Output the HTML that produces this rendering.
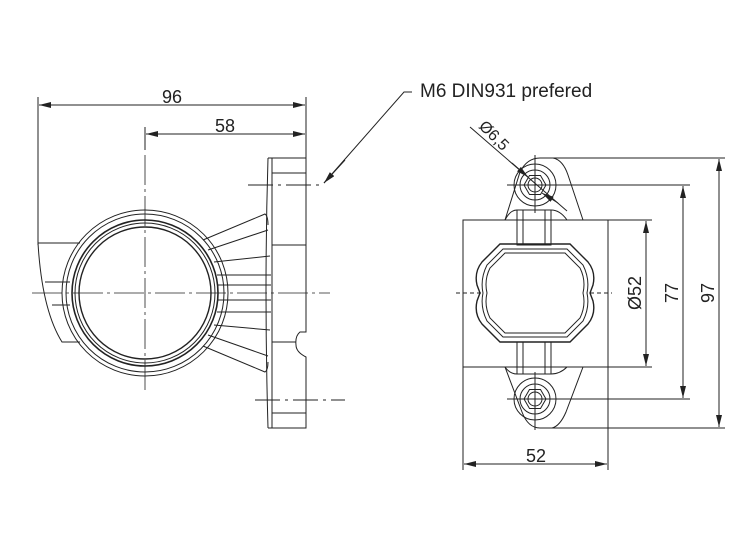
<!DOCTYPE html>
<html><head><meta charset="utf-8"><style>
html,body{margin:0;padding:0;background:#fff;}
svg{display:block;}
text{font-family:"Liberation Sans",sans-serif;fill:#222;}
</style></head><body>
<svg width="750" height="550" viewBox="0 0 750 550" xmlns="http://www.w3.org/2000/svg">
<defs>
<marker id="a" viewBox="0 0 12 6" refX="12" refY="3" markerWidth="12" markerHeight="6" orient="auto-start-reverse" markerUnits="userSpaceOnUse"><path d="M0,0 L12,3 L0,6 z" fill="#222"/></marker>
</defs>
<g stroke="#222" fill="none" stroke-width="1">
<line x1="38" y1="97" x2="38" y2="245"/>
<line x1="306" y1="97" x2="306" y2="158"/>
<line x1="39" y1="105" x2="305" y2="105" marker-start="url(#a)" marker-end="url(#a)"/>
<line x1="146" y1="134" x2="305" y2="134" marker-start="url(#a)" marker-end="url(#a)"/>
<line x1="145" y1="127" x2="145" y2="150"/>
<line x1="145" y1="155" x2="145" y2="390" stroke-dasharray="30,4,3,4" stroke-width="0.8"/>
<line x1="32" y1="293" x2="330" y2="293" stroke-dasharray="30,4,3,4" stroke-width="0.8"/>
<polyline points="412,92 404,92 324,183"/>
<line x1="345" y1="160" x2="324" y2="183" marker-end="url(#a)"/>
<line x1="248" y1="185" x2="320" y2="185" stroke-dasharray="25,5,3,5"/>
<line x1="255" y1="400" x2="345" y2="400" stroke-dasharray="25,5,3,5"/>
<path d="M268,158 Q264,290 268,428"/>
<line x1="272" y1="158" x2="272" y2="428"/>
<path d="M268,158 L306,158 L306,332 L300,332 Q295,336 296,345 Q296,352 306,357 L306,428 L268,428"/>
<line x1="272" y1="173" x2="306" y2="173"/>
<line x1="272" y1="245" x2="306" y2="245"/>
<line x1="272" y1="342" x2="296" y2="342"/>
<line x1="272" y1="413" x2="306" y2="413"/>
<path d="M203,240 L265,214 Q268,216 268,225"/>
<path d="M208,250 L268,230"/>
<path d="M214,262 L270,256"/>
<path d="M217,275 L271,275"/>
<path d="M218,285 L271,285"/>
<path d="M218,300 L271,300"/>
<path d="M217,312 L271,312"/>
<path d="M214,325 L270,330"/>
<path d="M208,335 L268,356"/>
<path d="M203,346 L265,372 Q268,370 268,362"/>
<circle cx="145" cy="293" r="83"/>
<circle cx="145" cy="293" r="79"/>
<circle cx="145" cy="293" r="73" stroke-width="1.6"/>
<circle cx="145" cy="293" r="70"/>
<circle cx="145" cy="293" r="66" stroke-width="1.4"/>
<path d="M38,243 L80,243"/>
<path d="M38,243 Q42,310 62,342 L80,342"/>
<line x1="45" y1="282" x2="70" y2="282"/>
<line x1="52" y1="305" x2="70" y2="305"/>

<rect x="463" y="220" width="145" height="147"/>
<path d="M505,220 L520,172 Q527,158 540,158 L553,158 Q563,160 568,175 L583,220"/>
<path d="M505,367 L522,412 Q528,428 540,428 L552,428 Q560,426 566,412 L583,367"/>
<circle cx="535" cy="185" r="21"/>
<circle cx="535" cy="185" r="15"/>
<polygon points="546,185 540.5,194.5 529.5,194.5 524,185 529.5,175.5 540.5,175.5"/>
<circle cx="535" cy="185" r="7"/>
<circle cx="535" cy="399" r="21"/>
<circle cx="535" cy="399" r="15"/>
<polygon points="546,399 540.5,408.5 529.5,408.5 524,399 529.5,389.5 540.5,389.5"/>
<circle cx="535" cy="399" r="7"/>
<line x1="535" y1="155" x2="535" y2="213"/>
<line x1="507" y1="185" x2="690" y2="185"/>
<line x1="535" y1="372" x2="535" y2="430"/>
<line x1="507" y1="399" x2="690" y2="399"/>
<line x1="540" y1="158" x2="725" y2="158"/>
<line x1="540" y1="428" x2="725" y2="428"/>
<line x1="608" y1="220" x2="652" y2="220"/>
<line x1="608" y1="367" x2="652" y2="367"/>
<rect x="517" y="210" width="34" height="35"/>
<rect x="517" y="342" width="34" height="32"/>
<line x1="523" y1="210" x2="523" y2="245"/><line x1="545" y1="210" x2="545" y2="245"/>
<line x1="523" y1="342" x2="523" y2="374"/><line x1="545" y1="342" x2="545" y2="374"/>
<path d="M505,220 Q510,210 517,210 M551,210 Q560,210 567,220"/>
<path d="M505,367 Q510,374 517,374 M551,374 Q560,374 567,367"/>
<path d="M500,244 L570,244 L588,262 Q596,272 593,285 L590,293 L593,301 Q596,314 588,324 L570,342 L500,342 L482,324 Q474,314 477,301 L480,293 L477,285 Q474,272 482,262 Z" stroke-width="1.4"/>
<path d="M503,249 L567,249 L583,265 Q590,279 587,293 Q590,307 583,321 L567,337 L503,337 L487,321 Q480,307 483,293 Q480,279 487,265 Z"/>
<path d="M505,253 L565,253 L580,268 Q586,280 583,293 Q586,306 580,318 L565,333 L505,333 L490,318 Q484,306 487,293 Q484,280 490,268 Z"/>
<line x1="456" y1="293" x2="482" y2="293" stroke-dasharray="4,3"/>
<line x1="590" y1="293" x2="612" y2="293" stroke-dasharray="4,3"/>
<line x1="463" y1="367" x2="463" y2="470"/>
<line x1="608" y1="367" x2="608" y2="470"/>
<line x1="464" y1="464" x2="607" y2="464" marker-start="url(#a)" marker-end="url(#a)"/>
<line x1="646" y1="221" x2="646" y2="366" marker-start="url(#a)" marker-end="url(#a)"/>
<line x1="683" y1="186" x2="683" y2="398" marker-start="url(#a)" marker-end="url(#a)"/>
<line x1="719" y1="159" x2="719" y2="427" marker-start="url(#a)" marker-end="url(#a)"/>
<line x1="470" y1="127" x2="567" y2="211"/>
<line x1="512" y1="163" x2="528" y2="177" marker-end="url(#a)"/>
<line x1="558" y1="203" x2="542" y2="193" marker-end="url(#a)"/>
</g>
<text x="172" y="103" font-size="18" text-anchor="middle">96</text>
<text x="225" y="132" font-size="18" text-anchor="middle">58</text>
<text x="420" y="97" font-size="19">M6 DIN931 prefered</text>
<text x="536" y="462" font-size="18" text-anchor="middle">52</text>
<text transform="translate(641,293) rotate(-90)" font-size="18" text-anchor="middle">Ø52</text>
<text transform="translate(678,293) rotate(-90)" font-size="18" text-anchor="middle">77</text>
<text transform="translate(714,293) rotate(-90)" font-size="18" text-anchor="middle">97</text>
<text transform="translate(478,127) rotate(45)" font-size="16">Ø6,5</text>
</svg>
</body></html>
